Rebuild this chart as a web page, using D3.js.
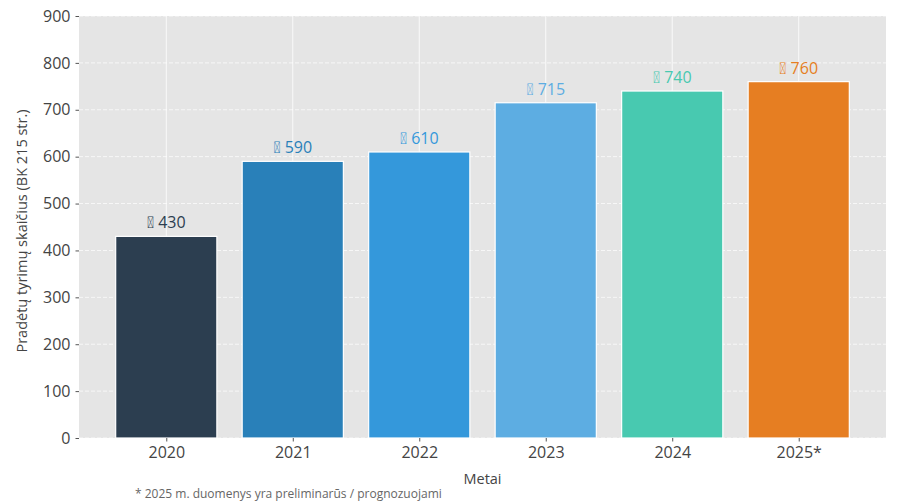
<!DOCTYPE html>
<html><head><meta charset="utf-8">
<script src="https://cdn.jsdelivr.net/npm/d3@7"></script>
<style>
html,body{margin:0;padding:0;background:#fff;}
svg text{font-family:"Open Sans",sans-serif;}
</style></head>
<body><svg id="chart" width="900" height="503"></svg>
<script>
const categories = ["2020","2021","2022","2023","2024","2025*"];
const values = [430, 590, 610, 715, 740, 760];
const colors = ["#2c3e50","#2980b9","#3498db","#5dade2","#48c9b0","#e67e22"];
const yTicks = [0,100,200,300,400,500,600,700,800,900];
const icon = "\uE000";
const yTitle = "Pradėtų tyrimų skaičius (BK 215 str.)";
const xTitle = "Metai";
const footnote = "* 2025 m. duomenys yra preliminarūs / prognozuojami";

const svg = d3.select("#chart");
const L=79, R=886, T=16, B=438;
const x = d3.scaleLinear().domain([-0.69, categories.length-1+0.69]).range([L,R]);
const y = d3.scaleLinear().domain([0,900]).range([B,T]);
const bw = x(0.4)-x(-0.4);

svg.append("rect").attr("x",L).attr("y",T).attr("width",R-L).attr("height",B-T).attr("fill","#e5e5e5");
svg.append("g").selectAll("line").data(yTicks).join("line")
  .attr("x1",L).attr("x2",R).attr("y1",d=>y(d)).attr("y2",d=>y(d))
  .attr("stroke","#fff").attr("stroke-width",0.8).attr("stroke-dasharray","4,2").attr("opacity",0.9);
svg.append("g").selectAll("line").data(categories).join("line")
  .attr("x1",(d,i)=>x(i)).attr("x2",(d,i)=>x(i)).attr("y1",T).attr("y2",B)
  .attr("stroke","#fff").attr("stroke-width",0.8);
svg.append("g").selectAll("rect").data(values).join("rect")
  .attr("x",(d,i)=>x(i)-bw/2).attr("width",bw)
  .attr("y",d=>y(d)).attr("height",d=>B-y(d))
  .attr("fill",(d,i)=>colors[i]).attr("stroke","#fff").attr("stroke-width",1.2);
const lab = svg.append("g").selectAll("text").data(values).join("text")
  .attr("x",(d,i)=>x(i)).attr("y",d=>y(d)-8)
  .attr("text-anchor","middle").attr("font-size",16)
  .attr("fill",(d,i)=>colors[i]);
lab.append("tspan").attr("font-family","Roboto").text(icon);
lab.append("tspan").text(d=>" "+d);
const ya = svg.append("g").attr("transform",`translate(${L},0)`)
  .call(d3.axisLeft(y).tickValues(yTicks).tickSize(3.5).tickPadding(5));
ya.select(".domain").remove();
ya.selectAll("line").attr("stroke","#555");
ya.selectAll("text").attr("font-size",16).attr("fill","#444").attr("font-family","Open Sans, sans-serif");
const xa = svg.append("g").attr("transform",`translate(0,${B})`)
  .call(d3.axisBottom(x).tickValues(d3.range(categories.length)).tickFormat(i=>categories[i]).tickSize(3.5).tickPadding(5));
xa.select(".domain").remove();
xa.selectAll("line").attr("stroke","#555");
xa.selectAll("text").attr("font-size",16).attr("fill","#444").attr("font-family","Open Sans, sans-serif");
svg.append("text").attr("transform",`translate(27,${(T+B)/2+4}) rotate(-90)`)
  .attr("text-anchor","middle").attr("font-size",14.5).attr("fill","#444").text(yTitle);
svg.append("text").attr("x",(L+R)/2).attr("y",484).attr("text-anchor","middle")
  .attr("font-size",14.5).attr("fill","#444").text(xTitle);
svg.append("text").attr("x",135).attr("y",498).attr("font-size",12).attr("fill","#666").text(footnote);
</script></body></html>
